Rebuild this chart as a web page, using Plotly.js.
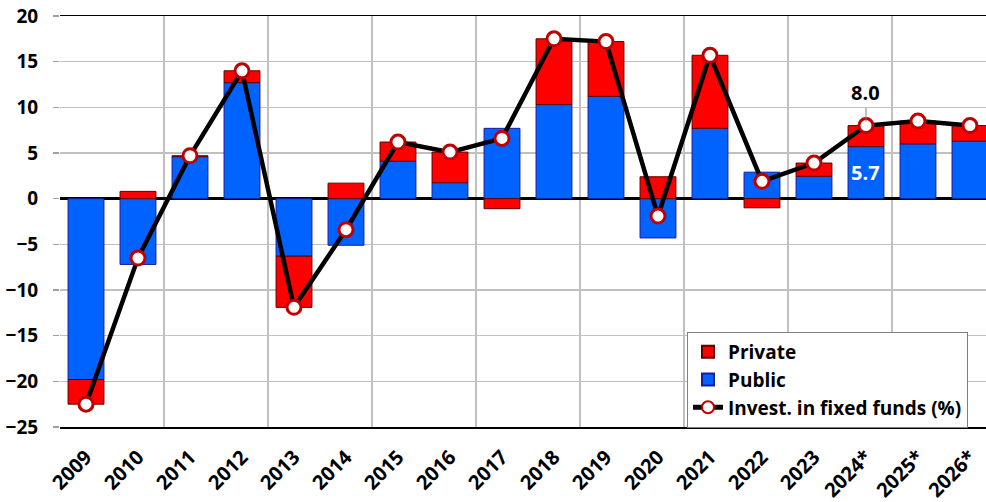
<!DOCTYPE html>
<html>
<head>
<meta charset="utf-8">
<script src="https://cdn.plot.ly/plotly-3.0.1.min.js"></script>
<style>html,body{margin:0;padding:0;overflow:hidden;background:#fff;}</style>
</head>
<body>
<div id="chart" style="width:986px;height:502px;"></div>
<script>
const categories = ["2009","2010","2011","2012","2013","2014","2015","2016","2017","2018","2019","2020","2021","2022","2023","2024*","2025*","2026*"];
const publicVals  = [-19.8, -7.2, 4.6, 12.7, -6.3, -5.1, 4.1, 1.75, 7.7, 10.3, 11.2, -4.3, 7.7, 2.9, 2.45, 5.7, 6.0, 6.3];
const privateVals = [-2.7, 0.8, 0.1, 1.3, -5.6, 1.7, 2.1, 3.35, -1.1, 7.2, 6.0, 2.4, 8.0, -1.0, 1.45, 2.3, 2.5, 1.7];
const investVals  = [-22.5, -6.5, 4.7, 14.0, -11.9, -3.4, 6.2, 5.1, 6.6, 17.5, 17.2, -1.9, 15.7, 1.9, 3.9, 8.0, 8.5, 8.0];

const xIdx = categories.map((_, i) => i);
const FONT = "'Open Sans', Lato, 'DejaVu Sans', sans-serif";

const traces = [
  {
    type: "bar", name: "Public", x: xIdx, y: publicVals, width: 0.69,
    marker: {color: "#0062FF", line: {color: "#1A1AA0", width: 1}},
    legendrank: 2, hoverinfo: "skip"
  },
  {
    type: "bar", name: "Private", x: xIdx, y: privateVals, width: 0.69,
    marker: {color: "#FF0000", line: {color: "#600000", width: 1}},
    legendrank: 1, hoverinfo: "skip"
  },
  {
    type: "scatter", mode: "lines+markers", name: "Invest. in fixed funds (%)",
    x: xIdx, y: investVals,
    line: {color: "#000000", width: 4.5},
    marker: {size: 14, color: "#FFFFFF", line: {color: "#C00000", width: 3}},
    legendrank: 3, hoverinfo: "skip"
  }
];

const i24 = categories.indexOf("2024*");

const layout = {
  width: 986, height: 502,
  margin: {l: 60, r: 0, t: 16, b: 75},
  paper_bgcolor: "#FFFFFF", plot_bgcolor: "#FFFFFF",
  barmode: "relative", bargap: 0.31,
  showlegend: true,
  font: {family: FONT, size: 18, color: "#000000", weight: "bold"},
  xaxis: {
    type: "linear",
    range: [-0.5, 17.308],
    tickmode: "array", tickvals: xIdx, ticktext: categories,
    tickangle: -45,
    tickfont: {family: FONT, size: 20, color: "#000000", weight: "bold"},
    showgrid: false, zeroline: false,
    showline: true, mirror: true, linecolor: "#000000", linewidth: 1.5,
    ticks: "", ticklabelstandoff: 9,
    minor: {tickmode: "linear", tick0: -0.5, dtick: 2, showgrid: true, gridcolor: "#C0C0C0", gridwidth: 1.3, ticks: ""}
  },
  yaxis: {
    range: [-25, 20], dtick: 5, tick0: 0,
    tickfont: {family: FONT, size: 19, color: "#000000", weight: "bold"},
    showgrid: true, gridcolor: "#C0C0C0", gridwidth: 1.3,
    zeroline: true, zerolinecolor: "#000000", zerolinewidth: 3,
    showline: false,
    ticks: "outside", ticklen: 6, tickcolor: "#A0A0A0", tickwidth: 1.3,
    ticklabelstandoff: 11
  },
  legend: {
    x: (687 - 60) / 926, xanchor: "left",
    y: (427 - 332) / 411, yanchor: "top",
    traceorder: "normal",
    bgcolor: "#FFFFFF", bordercolor: "#808080", borderwidth: 1,
    font: {family: FONT, size: 19, color: "#000000", weight: "bold"},
    itemsizing: "constant", tracegroupgap: 0
  },
  annotations: [
    {
      x: i24, y: investVals[i24], xref: "x", yref: "y",
      text: investVals[i24].toFixed(1),
      showarrow: true, arrowhead: 0, arrowwidth: 1, arrowcolor: "#808080",
      ax: 0, ay: -33, standoff: 4,
      font: {family: FONT, size: 20, color: "#000000", weight: "bold"}
    },
    {
      x: i24, y: publicVals[i24], xref: "x", yref: "y",
      text: publicVals[i24].toFixed(1),
      showarrow: false, yshift: -26,
      font: {family: FONT, size: 20, color: "#FFFFFF", weight: "bold"}
    }
  ]
};

Plotly.newPlot("chart", traces, layout, {staticPlot: true, displayModeBar: false});
</script>
</body>
</html>
